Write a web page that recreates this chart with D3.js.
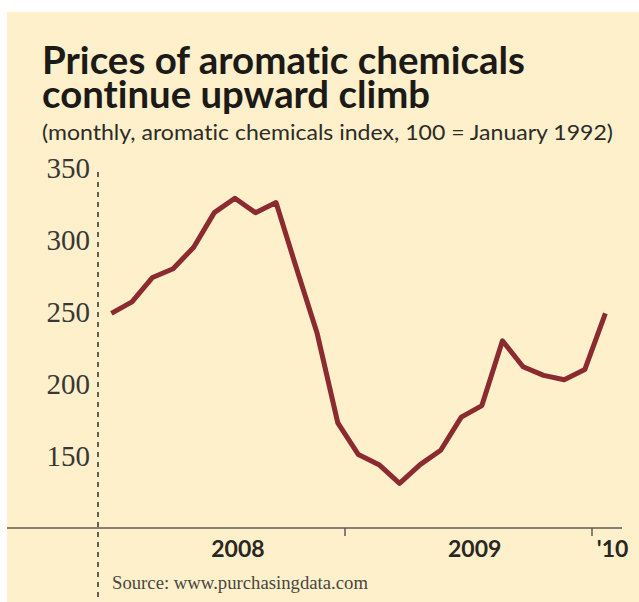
<!DOCTYPE html>
<html>
<head>
<meta charset="utf-8">
<script src="https://cdn.jsdelivr.net/npm/d3@7"></script>
<style>
  body { margin: 0; background: #fff; }
  svg { display: block; }
  text { font-variant-ligatures: none; }
</style>
</head>
<body>
<div id="chart"></div>
<script>
// monthly index, Jan 2008 .. Jan 2010
var months = ["Jan 08","Feb 08","Mar 08","Apr 08","May 08","Jun 08","Jul 08","Aug 08","Sep 08","Oct 08","Nov 08","Dec 08",
              "Jan 09","Feb 09","Mar 09","Apr 09","May 09","Jun 09","Jul 09","Aug 09","Sep 09","Oct 09","Nov 09","Dec 09",
              "Jan 10"];
var values = [249, 257, 274, 280, 295, 319, 329, 319, 326, 280, 235, 173,
              151, 144, 131, 144, 154, 177, 185, 230, 212, 206, 203, 210,
              249];
var yTicks = [150, 200, 250, 300, 350];
var yearLabels = ["2008", "2009", "'10"];
var yearTickMonths = [12, 24];

var W = 639, H = 602;
var BG = "#fdf0cb",
    LINE_COLOR = "#8c2b2f",
    AXIS_COLOR = "#5f5a52";

var svg = d3.select("#chart").append("svg")
    .attr("width", W)
    .attr("height", H);

svg.append("rect")
    .attr("x", 7).attr("y", 12)
    .attr("width", W - 7).attr("height", H - 12)
    .attr("fill", BG);

var x = d3.scaleLinear().domain([0, 24]).range([98, 592]);
var y = d3.scaleLinear().domain([100, 350]).range([528, 168]);

// squeeze a text to a target width
function fitWidth(sel, w) {
    sel.attr("textLength", w).attr("lengthAdjust", "spacingAndGlyphs");
}

// title
svg.append("text")
    .attr("x", 42).attr("y", 74)
    .style("font-family", "Lato, 'Open Sans', sans-serif")
    .style("font-weight", "bold")
    .style("font-size", "38px")
    .style("fill", "#1c1a17")
    .text("Prices of aromatic chemicals")
    .call(fitWidth, 483);
svg.append("text")
    .attr("x", 42).attr("y", 108)
    .style("font-family", "Lato, 'Open Sans', sans-serif")
    .style("font-weight", "bold")
    .style("font-size", "38px")
    .style("fill", "#1c1a17")
    .text("continue upward climb")
    .call(fitWidth, 388);

svg.append("text")
    .attr("x", 42).attr("y", 140)
    .style("font-family", "Lato, 'Open Sans', sans-serif")
    .style("font-size", "21px")
    .style("fill", "#2e2b27")
    .text("(monthly, aromatic chemicals index, 100 = January 1992)")
    .call(fitWidth, 571);

// y labels
svg.selectAll(".ylab")
    .data(yTicks)
    .enter()
    .append("text")
    .attr("class", "ylab")
    .attr("x", 90)
    .attr("y", function(d) { return y(d); })
    .attr("dy", "0.35em")
    .attr("text-anchor", "end")
    .style("font-family", "'Liberation Serif', 'DejaVu Serif', serif")
    .style("font-size", "29px")
    .style("fill", "#3a3732")
    .text(function(d) { return d; });

// dashed start line
svg.append("line")
    .attr("x1", x(0)).attr("x2", x(0))
    .attr("y1", 172).attr("y2", H)
    .style("stroke", "#3f3b35")
    .style("stroke-width", 1.6)
    .style("stroke-dasharray", "5,5");

// x axis line
svg.append("line")
    .attr("x1", 7).attr("x2", 622)
    .attr("y1", y(100)).attr("y2", y(100))
    .style("stroke", AXIS_COLOR)
    .style("stroke-width", 1.5);

svg.selectAll(".xtick")
    .data(yearTickMonths)
    .enter()
    .append("line")
    .attr("class", "xtick")
    .attr("x1", function(d) { return x(d); })
    .attr("x2", function(d) { return x(d); })
    .attr("y1", y(100)).attr("y2", y(100) + 8)
    .style("stroke", AXIS_COLOR)
    .style("stroke-width", 1.5);

var labelPos = [6.8, 18.3, 25];
svg.selectAll(".xlab")
    .data(yearLabels)
    .enter()
    .append("text")
    .attr("class", "xlab")
    .attr("x", function(d, i) { return x(labelPos[i]); })
    .attr("y", 557)
    .attr("text-anchor", "middle")
    .style("font-family", "Lato, 'Open Sans', sans-serif")
    .style("font-weight", "bold")
    .style("font-size", "23px")
    .style("fill", "#2a2723")
    .text(function(d) { return d; });

// the series
var line = d3.line()
    .x(function(d, i) { return x(i + 0.65); })
    .y(function(d) { return y(d); });

svg.append("path")
    .datum(values)
    .attr("d", line)
    .style("fill", "none")
    .style("stroke", LINE_COLOR)
    .style("stroke-width", 5)
    .style("stroke-linejoin", "round");

svg.append("text")
    .attr("x", 112).attr("y", 589)
    .style("font-family", "'Liberation Serif', 'DejaVu Serif', serif")
    .style("font-size", "18px")
    .style("fill", "#4a463f")
    .text("Source: www.purchasingdata.com")
    .call(fitWidth, 256);
</script>
</body>
</html>
